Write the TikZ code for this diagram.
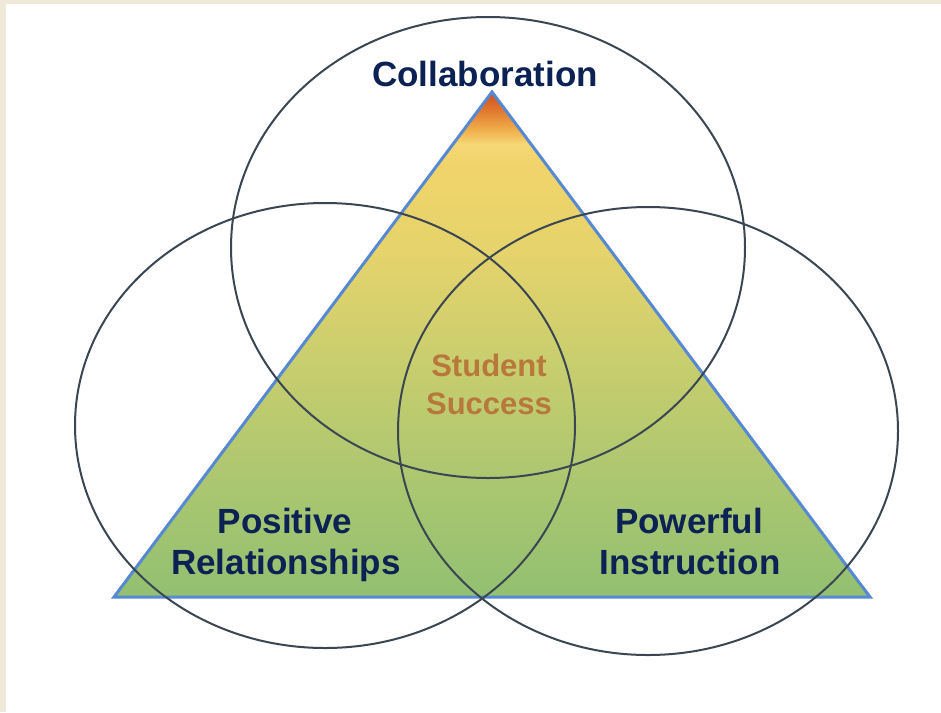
\documentclass[tikz,border=0pt]{standalone}
\usepackage{fontspec}
\setmainfont{Liberation Sans}
\definecolor{beige}{HTML}{F0E8D8}
\definecolor{navy}{HTML}{0C2154}
\definecolor{ochre}{HTML}{B8783C}
\definecolor{ringcol}{HTML}{3A4752}
\definecolor{tribord}{HTML}{5689D2}
\definecolor{gA}{HTML}{92C071}
\definecolor{gB}{HTML}{AEC770}
\definecolor{gC}{HTML}{C9CE6E}
\definecolor{gD}{HTML}{E6D36B}
\definecolor{gE}{HTML}{F1D46B}
\definecolor{gF}{HTML}{F6D877}
\definecolor{gG}{HTML}{F0B04C}
\definecolor{gH}{HTML}{E0782E}
\definecolor{gI}{HTML}{CF4F24}
\pgfdeclareverticalshading{trishade}{100bp}{%
  color(0bp)=(gA);
  color(25bp)=(gA);
  color(37.6bp)=(gB);
  color(48.5bp)=(gC);
  color(59.4bp)=(gD);
  color(68.3bp)=(gE);
  color(69.8bp)=(gF);
  color(71.2bp)=(gG);
  color(73.2bp)=(gH);
  color(75bp)=(gI);
  color(100bp)=(gI)}
\tikzset{
  ring/.style={draw=ringcol, line width=2pt},
  mainlbl/.style={font=\bfseries\fontsize{35}{40}\selectfont, text=navy, inner sep=0pt, anchor=base},
  centrelbl/.style={font=\bfseries\fontsize{31}{38}\selectfont, text=ochre, inner sep=0pt, anchor=base}
}
\begin{document}
\begin{tikzpicture}[x=1pt,y=-1pt]
\useasboundingbox (0,0) rectangle (941,712);
\fill[white] (0,0) rectangle (941,712);
\fill[beige] (0,0) rectangle (941,4);
\fill[beige] (0,0) rectangle (6,712);
% triangle
\coordinate (apex) at (492,92);
\coordinate (bl) at (114,597);
\coordinate (br) at (870,597);
\begin{scope}
\clip (apex) -- (bl) -- (br) -- cycle;
\shade[shading=trishade] (114,92) rectangle (870,597);
\end{scope}
\draw[tribord, line width=3pt, line join=miter] (apex) -- (bl) -- (br) -- cycle;
% rings
\draw[ring] (488,247.5) ellipse [x radius=257pt, y radius=230.5pt];
\draw[ring] (325,425.5) ellipse [x radius=250pt, y radius=222.5pt];
\draw[ring] (648,431) ellipse [x radius=250pt, y radius=224pt];
% labels
\node[mainlbl] (collab) at (485,86) {Collaboration};
\node[centrelbl] (stu) at (489,376) {Student};
\node[centrelbl] (suc) at (489,414) {Success};
\node[mainlbl] (pos) at (285,533) {Positive};
\node[mainlbl] (rel) at (286,574) {Relationships};
\node[mainlbl] (pow) at (689,533) {Powerful};
\node[mainlbl] (ins) at (690,574) {Instruction};
\end{tikzpicture}
\end{document}
